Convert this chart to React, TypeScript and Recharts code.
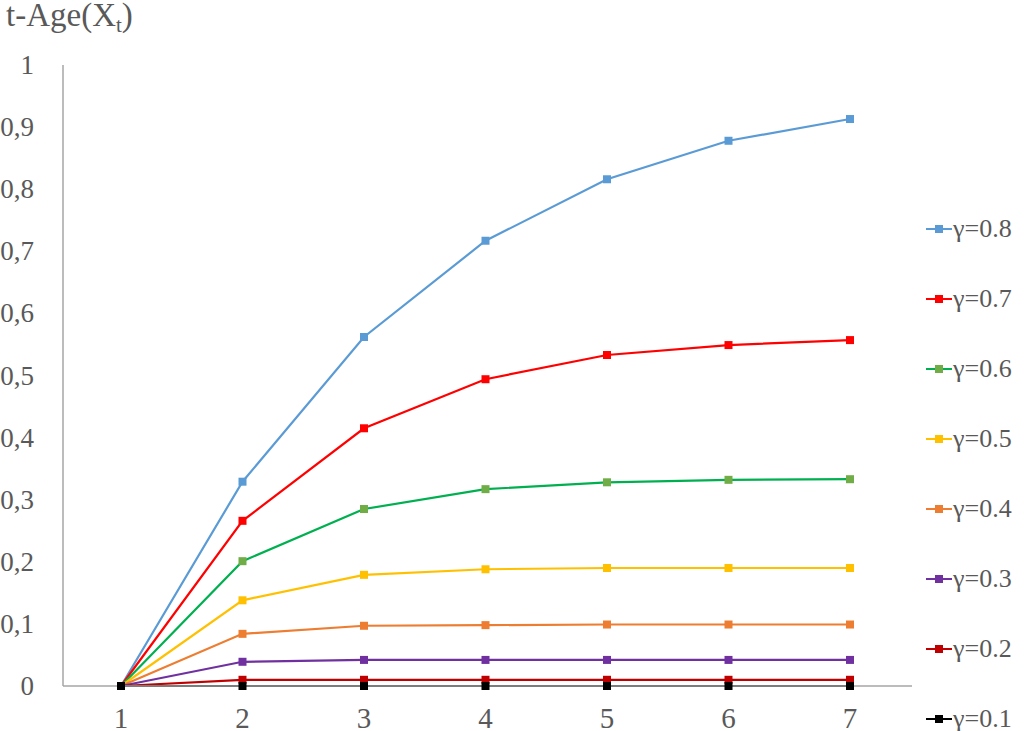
import { Legend, Line, LineChart, XAxis, YAxis } from "recharts";

const steps = [1, 2, 3, 4, 5, 6, 7];

const g08 = [0, 0.329, 0.562, 0.717, 0.816, 0.878, 0.913];
const g07 = [0, 0.266, 0.415, 0.494, 0.533, 0.549, 0.557];
const g06 = [0, 0.201, 0.285, 0.317, 0.328, 0.332, 0.333];
const g05 = [0, 0.138, 0.179, 0.188, 0.19, 0.19, 0.19];
const g04 = [0, 0.084, 0.097, 0.098, 0.099, 0.099, 0.099];
const g03 = [0, 0.039, 0.042, 0.042, 0.042, 0.042, 0.042];
const g02 = [0, 0.01, 0.01, 0.01, 0.01, 0.01, 0.01];
const g01 = [0, 0, 0, 0, 0, 0, 0];

const yTicks = [0, 0.1, 0.2, 0.3, 0.4, 0.5, 0.6, 0.7, 0.8, 0.9, 1];

const series = [
    { key: "g08", name: "γ=0.8", values: g08, line: "#5b9bd5", marker: "#5b9bd5" },
    { key: "g07", name: "γ=0.7", values: g07, line: "#ff0000", marker: "#ff0000" },
    { key: "g06", name: "γ=0.6", values: g06, line: "#00b050", marker: "#70ad47" },
    { key: "g05", name: "γ=0.5", values: g05, line: "#ffc000", marker: "#ffc000" },
    { key: "g04", name: "γ=0.4", values: g04, line: "#ed7d31", marker: "#ed7d31" },
    { key: "g03", name: "γ=0.3", values: g03, line: "#7030a0", marker: "#7030a0" },
    { key: "g02", name: "γ=0.2", values: g02, line: "#c00000", marker: "#c00000" },
    { key: "g01", name: "γ=0.1", values: g01, line: "#000000", marker: "#000000" },
];

const data = steps.map((t, i) => {
    const row: Record<string, number> = { t };
    series.forEach((s) => {
        row[s.key] = s.values[i];
    });
    return row;
});

const FONT = '"Liberation Serif", serif';
const TEXT = "#595959";

const fmt = (v: number) => (v === 0 ? "0" : v === 1 ? "1" : v.toFixed(1).replace(".", ","));

const SquareDot = (color: string) => (props: any) => {
    const { cx, cy, index } = props;
    if (cx == null || cy == null) return null;
    return <rect key={index} x={cx - 4} y={cy - 4} width={8} height={8} fill={color} />;
};

const YTick = (props: any) => {
    const { x, y, payload } = props;
    return (
        <text x={x - 21} y={y} dy={9} textAnchor="end" fontFamily={FONT} fontSize={27} fill={TEXT}>
            {fmt(payload.value)}
        </text>
    );
};

const XTick = (props: any) => {
    const { x, y, payload } = props;
    return (
        <text x={x} y={y} dy={34} textAnchor="middle" fontFamily={FONT} fontSize={29} fill={TEXT}>
            {payload.value}
        </text>
    );
};

const LegendBox = () => (
    <div style={{ fontFamily: FONT, fontSize: 26, color: TEXT, lineHeight: "30px" }}>
        {series.map((s) => (
            <div key={s.key} style={{ display: "flex", alignItems: "center", height: 70 }}>
                <svg width={26} height={12} style={{ marginRight: 1 }}>
                    <line x1={0} y1={6} x2={26} y2={6} stroke={s.line} strokeWidth={2} />
                    <rect x={9} y={2} width={8} height={8} fill={s.marker} />
                </svg>
                <span>{s.name}</span>
            </div>
        ))}
    </div>
);

const App = () => {
    return (
        <div style={{ position: "absolute", left: 0, top: 0, width: 1024, height: 731, background: "#fff" }}>
            <svg width={220} height={60} style={{ position: "absolute", left: 0, top: 0 }}>
                <text x={6} y={26} fontFamily={FONT} fontSize={33} fill={TEXT}>
                    t-Age(X
                    <tspan fontSize={21} dy={6}>
                        t
                    </tspan>
                    <tspan dy={-6}>)</tspan>
                </text>
            </svg>
            <LineChart width={1024} height={731} data={data} margin={{ top: 65, right: 14, bottom: 15, left: 0 }}>
                <XAxis
                    dataKey="t"
                    type="category"
                    stroke="#a6a6a6"
                    strokeWidth={1.5}
                    tickLine={false}
                    tick={<XTick />}
                    height={30}
                    padding={{ left: 58, right: 62 }}
                />
                <YAxis
                    width={63}
                    domain={[0, 1]}
                    ticks={yTicks}
                    stroke="#a6a6a6"
                    strokeWidth={1.5}
                    tickLine={false}
                    tick={<YTick />}
                    interval={0}
                />
                <Legend
                    layout="vertical"
                    align="right"
                    verticalAlign="middle"
                    content={() => <LegendBox />}
                    wrapperStyle={{ left: 926, top: 194, width: 98 }}
                />
                {series.map((s) => (
                    <Line
                        key={s.key}
                        dataKey={s.key}
                        name={s.name}
                        type="linear"
                        stroke={s.line}
                        strokeWidth={2.2}
                        dot={SquareDot(s.marker)}
                        activeDot={false}
                        isAnimationActive={false}
                    />
                ))}
            </LineChart>
        </div>
    );
};

export default App;
